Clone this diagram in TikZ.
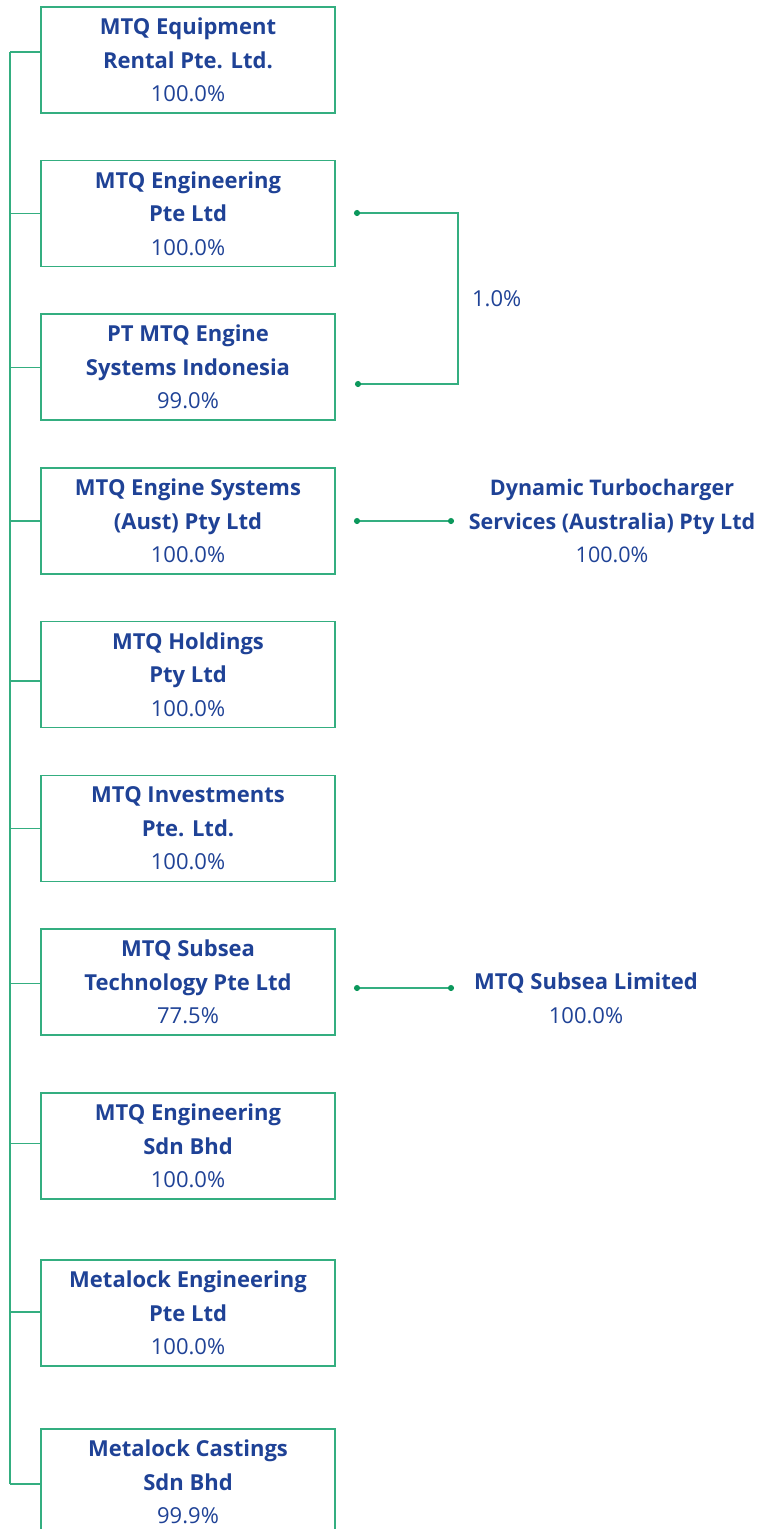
\documentclass[tikz,border=0pt]{standalone}
\usepackage{fontspec}
\setmainfont{Open Sans}
\usetikzlibrary{arrows.meta}
\usetikzlibrary{positioning}

\definecolor{linegreen}{RGB}{52,174,128}
\definecolor{dotgreen}{RGB}{12,152,92}
\definecolor{textblue}{RGB}{31,66,150}

\tikzset{
	entity/.style={draw=linegreen, line width=1.6pt, rectangle, minimum width=294pt, minimum height=106pt, align=center, text=textblue, font=\fontsize{22}{33.5}\selectfont},
	plain/.style={align=center, text=textblue, font=\fontsize{22}{33.5}\selectfont},
	branch/.style={draw=linegreen, line width=1.6pt},
	dotline/.style={draw=linegreen, line width=1.6pt, {Circle[length=6pt,color=dotgreen]}-{Circle[length=6pt,color=dotgreen]}}
}

\begin{document}
\begin{tikzpicture}[x=1pt,y=-1pt]
	
	\clip (0,0) rectangle (757,1529);
	
	\node [entity] at (188, 60) (equiprental){\textbf{MTQ Equipment}\\\textbf{Rental Pte. Ltd.}\\100.0\%};
	\node [entity] at (188, 213.5) (engsg){\textbf{MTQ Engineering}\\\textbf{Pte Ltd}\\100.0\%};
	\node [entity] at (188, 367) (ptindo){\textbf{PT MTQ Engine}\\\textbf{Systems Indonesia}\\99.0\%};
	\node [entity] at (188, 521) (engaust){\textbf{MTQ Engine Systems}\\\textbf{(Aust) Pty Ltd}\\100.0\%};
	\node [entity] at (188, 674.5) (holdings){\textbf{MTQ Holdings}\\\textbf{Pty Ltd}\\100.0\%};
	\node [entity] at (188, 828.3) (investments){\textbf{MTQ Investments}\\\textbf{Pte. Ltd.}\\100.0\%};
	\node [entity] at (188, 982) (subseatech){\textbf{MTQ Subsea}\\\textbf{Technology Pte Ltd}\\77.5\%};
	\node [entity] at (188, 1146) (engmy){\textbf{MTQ Engineering}\\\textbf{Sdn Bhd}\\100.0\%};
	\node [entity] at (188, 1313) (metalockeng){\textbf{Metalock Engineering}\\\textbf{Pte Ltd}\\100.0\%};
	\node [entity] at (188, 1482) (castings){\textbf{Metalock Castings}\\\textbf{Sdn Bhd}\\99.9\%};
	
	% spine joints
	\coordinate (j1) at (10, 52);
	\coordinate (j2) at (10, 213.3);
	\coordinate (j3) at (10, 367.3);
	\coordinate (j4) at (10, 520.7);
	\coordinate (j5) at (10, 680.7);
	\coordinate (j6) at (10, 828.3);
	\coordinate (j7) at (10, 983.3);
	\coordinate (j8) at (10, 1143.3);
	\coordinate (j9) at (10, 1311.7);
	\coordinate (j10) at (10, 1484);
	
	\draw [branch] (j1) -- (j10);
	\foreach \n/\b in {1/equiprental,2/engsg,3/ptindo,4/engaust,5/holdings,6/investments,7/subseatech,8/engmy,9/metalockeng,10/castings}{
		\draw [branch] (j\n) -- (j\n -| \b.west);
	}
	
	% cross holding
	\coordinate (s2) at (354, 213);
	\coordinate (s3) at (355, 384);
	\draw [dotline] (s2) -- (458, 213) -- node [plain, right=10pt, pos=0.5] (crosspct) {1.0\%} (458, 384) -- (s3);
	
	\node [plain, font=\fontsize{21.5}{33.5}\selectfont] at (612, 521) (dynturbo){\textbf{Dynamic Turbocharger}\\\textbf{Services (Australia) Pty Ltd}\\100.0\%};
	\coordinate (s4) at (354, 521);
	\coordinate (t4) at (454, 521);
	\draw [dotline] (s4) -- (t4);
	
	\node [plain] at (586, 998.5) (subsealtd){\textbf{MTQ Subsea Limited}\\100.0\%};
	\coordinate (s7) at (354, 988);
	\coordinate (t7) at (454, 988);
	\draw [dotline] (s7) -- (t7);
	
\end{tikzpicture}
\end{document}
